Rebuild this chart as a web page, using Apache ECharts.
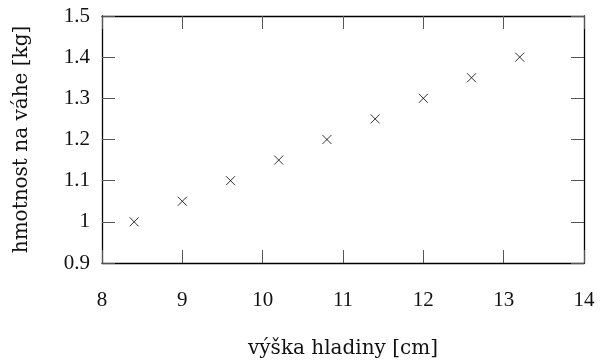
<!DOCTYPE html>
<html>
<head>
<meta charset="utf-8">
<script src="https://cdn.jsdelivr.net/npm/echarts@6/dist/echarts.min.js"></script>
<style>html,body{margin:0;padding:0;background:#fff}#c{width:600px;height:360px}</style>
</head>
<body>
<div id="c"></div>
<script>
const heights = [8.4, 9.0, 9.6, 10.2, 10.8, 11.4, 12.0, 12.6, 13.2];
const masses = [1.0, 1.05, 1.1, 1.15, 1.2, 1.25, 1.3, 1.35, 1.4];
const xName = 'výška hladiny [cm]';
const yName = 'hmotnost na váhe [kg]';

const font = 'Liberation Serif';
const titleFont = 'DejaVu Serif';
const points = heights.map((h, i) => [h, masses[i]]);
const tickStyle = {show: true, inside: true, length: 13, lineStyle: {color: '#555', width: 1}};
const lineStyle = {lineStyle: {color: '#000', width: 1.3}};

const chart = echarts.init(document.getElementById('c'));
chart.setOption({
  animation: false,
  grid: {left: 102, right: 16, top: 16, bottom: 97, outerBoundsMode: 'none', containLabel: false},
  xAxis: [{
    type: 'value', min: 8, max: 14, interval: 1, position: 'bottom',
    name: xName, nameLocation: 'middle', nameGap: 76,
    nameTextStyle: {fontFamily: titleFont, fontSize: 20, color: '#111'},
    axisLine: Object.assign({show: true, onZero: false}, lineStyle),
    axisTick: tickStyle,
    axisLabel: {fontFamily: font, fontSize: 21, color: '#111', margin: 27},
    splitLine: {show: false}
  }, {
    type: 'value', min: 8, max: 14, interval: 1, position: 'top',
    axisLine: Object.assign({show: true, onZero: false}, lineStyle),
    axisTick: tickStyle, axisLabel: {show: false}, splitLine: {show: false}
  }],
  yAxis: [{
    type: 'value', min: 0.9, max: 1.5, interval: 0.1, position: 'left',
    name: yName, nameLocation: 'middle', nameGap: 70,
    nameTextStyle: {fontFamily: titleFont, fontSize: 20, color: '#111'},
    axisLine: Object.assign({show: true, onZero: false}, lineStyle),
    axisTick: tickStyle,
    axisLabel: {fontFamily: font, fontSize: 21, color: '#111', margin: 12},
    splitLine: {show: false}
  }, {
    type: 'value', min: 0.9, max: 1.5, interval: 0.1, position: 'right',
    axisLine: Object.assign({show: true, onZero: false}, lineStyle),
    axisTick: tickStyle, axisLabel: {show: false}, splitLine: {show: false}
  }],
  series: [{
    type: 'scatter',
    xAxisIndex: 0, yAxisIndex: 0,
    data: points,
    symbol: 'path://M0,0L10,10M10,0L0,10',
    symbolSize: 9,
    itemStyle: {color: 'none', borderColor: '#000', borderWidth: 1}
  }]
});
</script>
</body>
</html>
